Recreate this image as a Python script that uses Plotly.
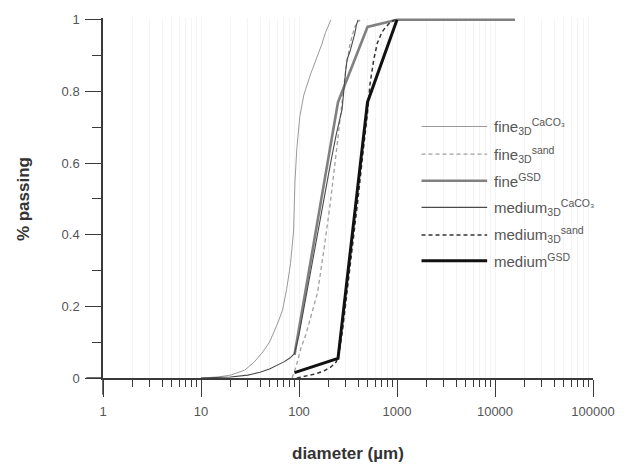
import plotly.graph_objects as go

# ---------------- data ----------------
fine3d_caco3_d = [10, 15, 20, 28, 35, 42, 50, 60, 68, 75, 82, 88, 91, 95, 102, 112, 130, 150, 170, 186, 200, 212]
fine3d_caco3_v = [0.0, 0.003, 0.008, 0.022, 0.045, 0.07, 0.10, 0.15, 0.19, 0.25, 0.32, 0.41, 0.55, 0.64,
                  0.73, 0.79, 0.845, 0.89, 0.93, 0.964, 0.985, 1.0]

fine3d_sand_d = [85, 93, 105, 117, 135, 155, 180, 209, 240, 270, 300, 330, 370, 420]
fine3d_sand_v = [0.0, 0.03, 0.085, 0.12, 0.18, 0.24, 0.36, 0.49, 0.63, 0.76, 0.86, 0.93, 0.98, 1.0]

fine_gsd_d = [90, 250, 500, 1000, 16000]
fine_gsd_v = [0.065, 0.77, 0.98, 1.0, 1.0]

medium3d_caco3_d = [10, 15, 20, 30, 40, 50, 60, 70, 80, 90, 100, 120, 150, 180, 210, 240, 275, 300,
                    310, 330, 355, 370, 385, 400]
medium3d_caco3_v = [0.0, 0.001, 0.003, 0.008, 0.016, 0.025, 0.035, 0.045, 0.055, 0.068, 0.12, 0.24,
                    0.38, 0.50, 0.60, 0.68, 0.75, 0.86, 0.89, 0.91, 0.94, 0.96, 0.985, 1.0]

medium3d_sand_d = [95, 120, 150, 180, 210, 240, 260, 280, 310, 350, 400, 450, 500, 530, 580, 630,
                   700, 760, 850, 950]
medium3d_sand_v = [0.0, 0.006, 0.012, 0.02, 0.03, 0.045, 0.08, 0.14, 0.24, 0.36, 0.50, 0.63, 0.74,
                   0.82, 0.89, 0.935, 0.965, 0.978, 0.993, 1.0]

medium_gsd_d = [90, 250, 500, 1000]
medium_gsd_v = [0.015, 0.055, 0.77, 1.0]

x_tick_vals = [1, 10, 100, 1000, 10000, 100000]
x_tick_labels = ["1", "10", "100", "1000", "10000", "100000"]
y_tick_vals = [0, 0.2, 0.4, 0.6, 0.8, 1]
y_tick_labels = ["0", "0.2", "0.4", "0.6", "0.8", "1"]

legend_labels = [
    "fine<sub>3D</sub><sup>CaCO₃</sup>",
    "fine<sub>3D</sub><sup>sand</sup>",
    "fine<sup>GSD</sup>",
    "medium<sub>3D</sub><sup>CaCO₃</sup>",
    "medium<sub>3D</sub><sup>sand</sup>",
    "medium<sup>GSD</sup>",
]

# ---------------- styles ----------------
styles = [
    dict(color="#9a9a9a", width=1.0, dash="solid"),
    dict(color="#a0a0a0", width=1.3, dash="4px,3px"),
    dict(color="#808080", width=2.6, dash="solid"),
    dict(color="#4a4a4a", width=1.1, dash="solid"),
    dict(color="#333333", width=1.5, dash="4px,3px"),
    dict(color="#111111", width=3.0, dash="solid"),
]
series = [
    (fine3d_caco3_d, fine3d_caco3_v),
    (fine3d_sand_d, fine3d_sand_v),
    (fine_gsd_d, fine_gsd_v),
    (medium3d_caco3_d, medium3d_caco3_v),
    (medium3d_sand_d, medium3d_sand_v),
    (medium_gsd_d, medium_gsd_v),
]

fig = go.Figure()
for (d, v), st, name in zip(series, styles, legend_labels):
    fig.add_trace(go.Scatter(x=d, y=v, mode="lines", name=name, line=st, showlegend=False))

W, H = 627, 467
L, R, T, B = 103, 24, 13, 89
pw, ph = W - L - R, H - T - B


def px_x(px):
    return (px - L) / pw


def px_y(py):
    return (H - B - py) / ph


axis_col = "#3a3a3a"
grid_col = "#f4f4f4"
minor_x = [m * 10 ** e for e in range(0, 5) for m in range(2, 10)]

fig.update_layout(
    width=W, height=H,
    margin=dict(l=L, r=R, t=T, b=B),
    plot_bgcolor="white", paper_bgcolor="white",
    font=dict(family="Liberation Sans, Arial, sans-serif", color="#555555"),
    xaxis=dict(
        type="log", range=[0, 5],
        tickmode="array", tickvals=x_tick_vals, ticktext=x_tick_labels,
        ticks="outside", ticklen=17, tickwidth=1.3, tickcolor=axis_col,
        showline=True, linecolor=axis_col, linewidth=1.5,
        showgrid=True, gridcolor=grid_col, gridwidth=1,
        tickfont=dict(size=13, color="#555555"),
        ticklabelstandoff=4,
        minor=dict(tickmode="array", tickvals=minor_x, ticks="outside", ticklen=7,
                   tickwidth=1.2, tickcolor=axis_col, showgrid=True, gridcolor=grid_col),
        zeroline=False,
    ),
    yaxis=dict(
        range=[0, 1.005],
        tickmode="array", tickvals=y_tick_vals, ticktext=y_tick_labels,
        ticks="outside", ticklen=16, tickwidth=1.3, tickcolor=axis_col,
        showline=True, linecolor=axis_col, linewidth=1.5,
        showgrid=False, zeroline=False,
        tickfont=dict(size=13, color="#555555"),
        ticklabelstandoff=3,
        minor=dict(dtick=0.1, ticks="outside", ticklen=9, tickwidth=1.2, tickcolor=axis_col,
                   showgrid=False),
    ),
)

shapes = [
    # axis extensions (Origin-style crossing)
    dict(type="line", xref="paper", yref="paper", x0=px_x(86), x1=0, y0=0, y1=0,
         line=dict(color=axis_col, width=1.5)),
    dict(type="line", xref="paper", yref="paper", x0=0, x1=0, y0=px_y(395), y1=0,
         line=dict(color=axis_col, width=1.5)),
]
annotations = []
legend_y = [123, 151, 178, 205, 233, 259]
for ly, st, lab in zip(legend_y, styles, legend_labels):
    shapes.append(dict(type="line", xref="paper", yref="paper",
                       x0=px_x(428), x1=px_x(495), y0=px_y(ly), y1=px_y(ly),
                       line=dict(color=st["color"], width=st["width"], dash=st["dash"])))
    annotations.append(dict(xref="paper", yref="paper", x=px_x(500), y=px_y(ly),
                            xanchor="left", yanchor="middle", showarrow=False, text=lab,
                            font=dict(size=15, color="#555555")))

annotations.append(dict(xref="paper", yref="paper", x=0.5, y=px_y(455), xanchor="center",
                        yanchor="middle", showarrow=False, text="<b>diameter (µm)</b>",
                        font=dict(size=17, color="#333333")))
annotations.append(dict(xref="paper", yref="paper", x=px_x(22), y=px_y(197), xanchor="center",
                        yanchor="middle", showarrow=False, text="<b>% passing</b>", textangle=-90,
                        font=dict(size=17, color="#333333")))

fig.update_layout(shapes=shapes, annotations=annotations)
fig.write_html("out.html")
